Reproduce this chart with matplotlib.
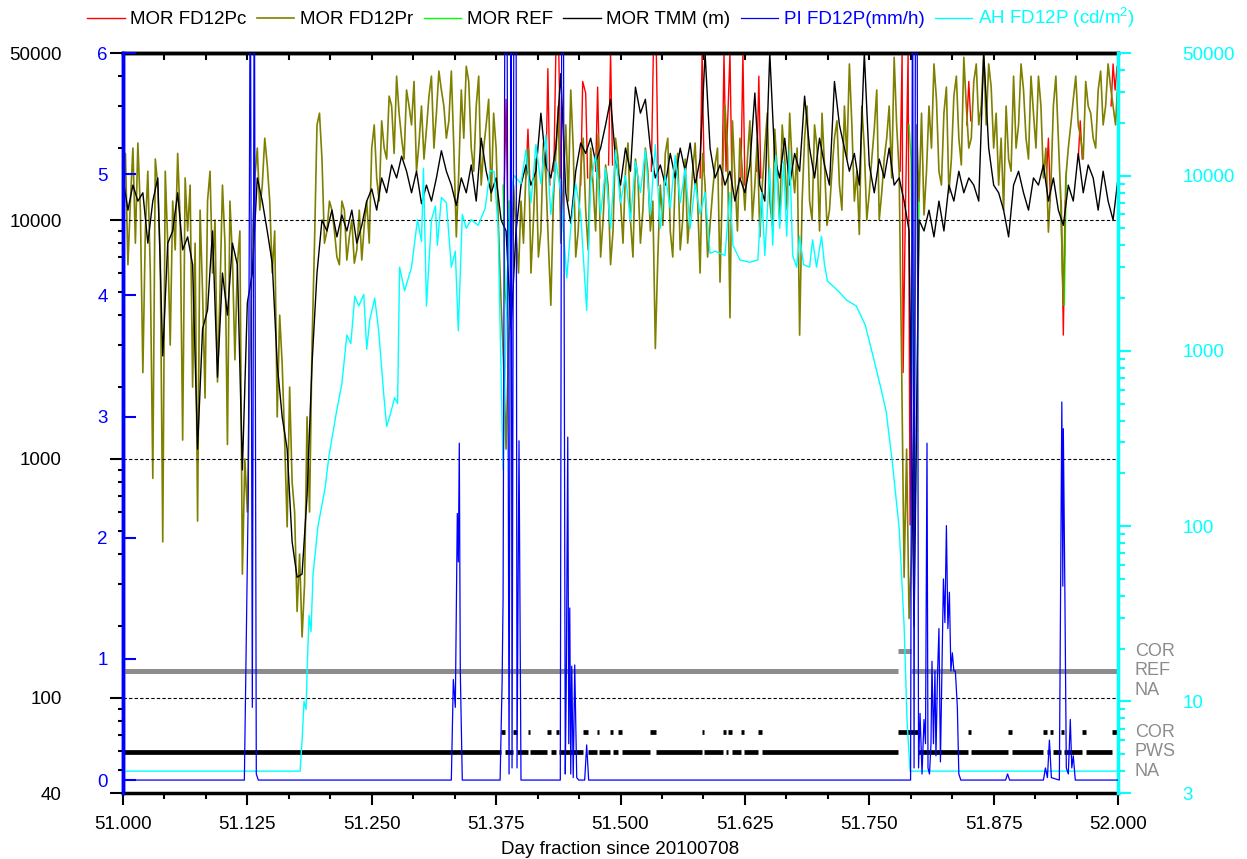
import numpy as np
import matplotlib.pyplot as plt
from matplotlib.ticker import (FixedLocator, LogLocator, NullFormatter, FuncFormatter,
                               MultipleLocator, FormatStrFormatter)

plt.rcParams['font.family'] = ['Liberation Sans', 'DejaVu Sans']
plt.rcParams['font.size'] = 13.5
plt.rcParams['mathtext.fontset'] = 'custom'
plt.rcParams['mathtext.rm'] = 'Liberation Sans'

# MOR FD12Pr (m), sampled every 0.005 day from 51.000 to 52.000
mor_fd12pr = [
    15000, 6500, 20000, 21000, 2300, 16000, 830, 14000, 450, 8000,
    12000, 19000, 1200, 9000, 2000, 550, 5000, 12000, 6000, 2100,
    14000, 1150, 7000, 6500, 330, 600, 8000, 20000, 14000, 17000,
    6000, 1500, 2500, 520, 800, 230, 180, 1500, 3000, 25000,
    18000, 9000, 11000, 7000, 12000, 6800, 10000, 7500, 6800, 12000,
    20000, 15000, 26000, 18000, 30000, 40000, 22000, 35000, 25000, 16000,
    30000, 24000, 40000, 28000, 35000, 22000, 42000, 8500, 35000, 44000,
    20000, 30000, 14000, 25000, 12000, 20000, 4500, 1100, 6000, 9000,
    12000, 16000, 6000, 18000, 9000, 15000, 4400, 19000, 8000, 25000,
    35000, 7000, 16000, 11000, 20000, 9000, 7000, 17000, 6500, 22000,
    12000, 16000, 10000, 18000, 8000, 20000, 9000, 2900, 14000, 19000,
    9000, 15000, 7500, 18000, 11000, 21000, 6000, 14000, 9500, 17000,
    5500, 30000, 3900, 15000, 22000, 11000, 26000, 14000, 8500, 20000,
    12000, 24000, 10000, 18000, 28000, 13000, 3300, 22000, 12000, 25000,
    9000, 17000, 11000, 22000, 14000, 30000, 45000, 12000, 8700, 20000,
    13000, 24000, 10000, 18000, 30000, 48000, 16000, 320, 215, 1500,
    12000, 10500, 30000, 45000, 16000, 28000, 13000, 33000, 22000, 48000,
    20000, 38000, 25000, 50000, 45000, 20000, 14000, 11000, 18000, 40000,
    25000, 35000, 18000, 28000, 40000, 15000, 8900, 30000, 22000, 4400,
    20000, 32000, 25000, 18000, 30000, 22000, 35000, 25000, 45000, 30000,
    40000,
]
# FD12Pr samples in between (day 51.0025, 51.0075, ...)
mor_fd12pr_mid = [
    19000, 12000, 8000, 11000, 9000, 6000, 18000, 7000, 16000, 3000,
    7500, 10000, 15000, 14000, 8000, 11000, 1800, 16000, 10000, 5000,
    8000, 12000, 2600, 9000, 1000, 2500, 15000, 11000, 22000, 12000,
    9000, 4000, 1200, 2000, 600, 400, 300, 600, 8000, 28000,
    8000, 12000, 9000, 6500, 11000, 8500, 6600, 11000, 9500, 8000,
    25000, 12000, 20000, 33000, 19000, 28000, 18000, 30000, 38000, 21000,
    18000, 33000, 20000, 42000, 30000, 26000, 20000, 16000, 22000, 38000,
    16000, 40000, 20000, 32000, 28000, 9000, 2500, 3000, 14000, 6000,
    8000, 20000, 10000, 7000, 21000, 8000, 12000, 30000, 14000, 12000,
    20000, 9000, 22000, 7500, 14000, 23000, 10000, 14000, 9000, 18000,
    8000, 21000, 7000, 15000, 11000, 16000, 12000, 7000, 9500, 22000,
    7000, 19000, 10000, 8000, 16000, 12000, 19000, 7000, 13000, 20000,
    15000, 20000, 26000, 9000, 16000, 18000, 10000, 22000, 14000, 28000,
    9500, 16000, 25000, 11000, 17000, 20000, 12000, 30000, 10000, 20000,
    28000, 9500, 16000, 26000, 11000, 18000, 25000, 16000, 30000, 10000,
    18000, 35000, 13000, 22000, 15000, 25000, 2500, 1100, 400, 25000,
    28000, 16000, 20000, 32000, 14000, 36000, 18000, 40000, 17000, 30000,
    22000, 45000, 30000, 25000, 36000, 28000, 22000, 30000, 16000, 20000,
    45000, 22000, 40000, 20000, 30000, 20000, 14000, 40000, 12000, 15000,
    25000, 40000, 22000, 38000, 28000, 20000, 42000, 30000, 36000, 25000,
]

# MOR TMM (m), every 0.005 day
mor_tmm = [
    15000, 11000, 14000, 12000, 13000, 8000, 12000, 15000, 2700, 8000,
    9000, 13000, 7500, 8500, 6500, 1100, 3500, 4200, 9000, 2200,
    6000, 4000, 8000, 6500, 900, 4500, 6000, 15000, 12000, 9000,
    6600, 2500, 1500, 1100, 450, 320, 330, 700, 2500, 6000,
    10000, 9000, 11000, 8500, 10500, 9000, 11000, 8000, 9500, 12000,
    13500, 11000, 15000, 13000, 17000, 15000, 18500, 16000, 13000, 16000,
    11700, 14000, 12000, 15000, 19500, 16000, 14000, 11500, 15000, 13000,
    17000, 12000, 22000, 16000, 13000, 15000, 10000, 9000, 3500, 9000,
    14000, 17000, 14000, 16000, 28000, 17000, 15000, 20000, 41000, 13000,
    9700, 16000, 21000, 19000, 22000, 17500, 20000, 25000, 32000, 18000,
    14000, 20000, 16000, 36000, 28000, 32000, 20000, 15000, 17000, 14000,
    19000, 15000, 20000, 16000, 21000, 14000, 18000, 50000, 20000, 15000,
    17000, 14000, 16000, 12000, 15000, 13000, 17000, 34000, 14000, 12000,
    50000, 18000, 15000, 22000, 14000, 19000, 16000, 33000, 20000, 15000,
    22000, 17000, 14000, 38000, 25000, 20000, 16000, 19000, 14000, 50000,
    17000, 13000, 18000, 15000, 20000, 14000, 15000, 12000, 9000, 200,
    10000, 9000, 11000, 8500, 12000, 9000, 14000, 12000, 16000, 13000,
    15000, 14000, 12000, 50000, 20000, 14000, 13000, 11000, 8500, 14000,
    16000, 13000, 11000, 15000, 14000, 17000, 12000, 15000, 11000, 9500,
    14000, 12000, 19000, 13000, 17000, 15000, 11000, 16000, 12000, 10000,
    15000,
]

# FD12Pc only where it departs from FD12Pr (day, MOR)
mor_fd12pc = [
    [(51.383, 12000), (51.385, 32000), (51.387, 8000)],
    [(51.405, 15000), (51.407, 24000), (51.409, 14000)],
    [(51.425, 15000), (51.427, 43000), (51.429, 14000)],
    [(51.433, 16000), (51.435, 50000), (51.438, 50000), (51.440, 15000)],
    [(51.460, 14000), (51.462, 38000), (51.465, 34000), (51.467, 15000)],
    [(51.475, 16000), (51.477, 36000), (51.479, 15000)],
    [(51.488, 17000), (51.490, 50000), (51.492, 17000)],
    [(51.531, 16000), (51.533, 50000), (51.536, 50000), (51.538, 14000)],
    [(51.580, 15000), (51.582, 50000), (51.584, 16000)],
    [(51.602, 14000), (51.604, 50000), (51.606, 16000), (51.610, 50000), (51.612, 14000)],
    [(51.621, 15000), (51.623, 50000), (51.625, 14000)],
    [(51.637, 16000), (51.639, 40000), (51.641, 15000)],
    [(51.781, 16000), (51.783, 50000), (51.784, 2300), (51.786, 9000),
     (51.789, 50000), (51.791, 530), (51.793, 8000)],
    [(51.848, 25000), (51.850, 38000), (51.852, 26000)],
    [(51.928, 15000), (51.930, 22000), (51.932, 12000)],
    [(51.943, 12000), (51.945, 3300), (51.947, 12000)],
    [(51.960, 18000), (51.962, 26000), (51.964, 18000)],
    [(51.993, 30000), (51.995, 45000), (51.997, 35000), (51.999, 44000)],
]

mor_ref = [
    [(51.382, 14000), (51.384, 5000), (51.386, 4000), (51.388, 12000)],
    [(51.790, 25000), (51.792, 18000), (51.794, 3000), (51.796, 530),
     (51.798, 2000), (51.800, 12000)],
    [(51.942, 14000), (51.944, 6000), (51.946, 4400), (51.948, 16000)],
]

# AH FD12P (cd/m2)
ah_day = [51.000, 51.178, 51.180, 51.182, 51.184, 51.185, 51.187, 51.189, 51.191, 51.196,
          51.203, 51.207, 51.214, 51.220, 51.225, 51.229, 51.233, 51.237, 51.242, 51.245,
          51.248, 51.253, 51.257, 51.262, 51.265, 51.268, 51.273, 51.276, 51.278, 51.283,
          51.290, 51.296, 51.300, 51.302, 51.305, 51.310, 51.314, 51.316, 51.320, 51.325,
          51.330, 51.334, 51.337, 51.341, 51.345, 51.350, 51.357, 51.364, 51.369, 51.373,
          51.377, 51.382, 51.386, 51.390, 51.393, 51.400, 51.405, 51.410, 51.415, 51.420,
          51.425, 51.430, 51.435, 51.440, 51.446, 51.450, 51.455, 51.460, 51.466, 51.470,
          51.475, 51.480, 51.485, 51.490, 51.495, 51.500, 51.505, 51.510, 51.515, 51.520,
          51.525, 51.530, 51.535, 51.540, 51.545, 51.550, 51.555, 51.560, 51.565, 51.570,
          51.575, 51.580, 51.585, 51.590, 51.595, 51.600, 51.605, 51.610, 51.613, 51.620,
          51.630, 51.638, 51.642, 51.645, 51.650, 51.653, 51.656, 51.660, 51.664, 51.667,
          51.670, 51.673, 51.677, 51.680, 51.684, 51.690, 51.693, 51.697, 51.702, 51.705,
          51.708, 51.715, 51.722, 51.727, 51.737, 51.746, 51.756, 51.762, 51.767, 51.773,
          51.780, 51.785, 51.788, 51.791, 52.000]
ah_val = [4.0, 4.0, 6, 10, 9, 14.5, 31, 25, 53, 100,
          163, 250, 430, 650, 1230, 1100, 2050, 1800, 2100, 1020,
          1500, 2000, 1300, 570, 370, 420, 540, 500, 3000, 2200,
          3000, 5600, 4200, 11000, 1800, 5600, 6700, 4000, 7500, 7000,
          3000, 3700, 1300, 6000, 5000, 5600, 5200, 6500, 10700, 10500,
          5000, 210, 2600, 8000, 10000, 9000, 14000, 7000, 15000, 9000,
          17000, 6000, 12000, 8000, 2600, 5000, 9000, 6000, 1700, 9000,
          13000, 6000, 11000, 5000, 14000, 7000, 10000, 5500, 12000, 8000,
          14000, 6000, 15000, 5000, 10000, 6500, 13000, 7000, 11000, 5000,
          9000, 6000, 8000, 3600, 3700, 3600, 3500, 8000, 4000, 3300,
          3200, 3300, 8000, 3500, 11000, 4000, 13000, 5000, 12000, 4500,
          13800, 3500, 3000, 4500, 3100, 3000, 4300, 3000, 4500, 3100,
          2500, 2300, 2100, 1950, 1800, 1400, 830, 600, 450, 235,
          98, 27, 7.6, 4.0, 4.0]

# PI FD12P (mm/h)
pi_day = [51.000, 51.122, 51.126, 51.128, 51.130, 51.132, 51.134, 51.136,
          51.330, 51.332, 51.334, 51.336, 51.337, 51.338, 51.339, 51.341,
          51.379, 51.381, 51.382, 51.384, 51.386, 51.388, 51.390, 51.391, 51.393,
          51.395, 51.396, 51.398, 51.400,
          51.4395, 51.441, 51.4425, 51.4445, 51.4455, 51.447, 51.448, 51.449, 51.450,
          51.451, 51.4525, 51.454, 51.456, 51.458, 51.464, 51.466, 51.468,
          51.7915, 51.7935, 51.795, 51.7965, 51.798, 51.7995, 51.801, 51.803, 51.805,
          51.8065, 51.808, 51.809, 51.8105, 51.812, 51.813, 51.8145, 51.816, 51.817,
          51.8185, 51.820, 51.8215, 51.823, 51.8245, 51.826, 51.8275, 51.829, 51.8305,
          51.832, 51.8335, 51.835, 51.8365, 51.8385, 51.840, 51.842,
          51.887, 51.889, 51.891,
          51.925, 51.927, 51.929, 51.931, 51.933, 51.941, 51.9435, 51.9445, 51.945,
          51.9465, 51.948, 51.950, 51.952, 51.9535, 51.955, 51.957, 52.000]
pi_val = [0, 0, 2.4, 7, 0.6, 7, 0.05, 0,
          0, 0.83, 0.6, 2.2, 1.8, 2.78, 0.9, 0,
          0, 0.8, 1.5, 7, 6.5, 0.05, 7, 0.1, 7,
          7, 0.1, 2.8, 0,
          0, 7, 7, 0.05, 0.8, 2.83, 0.3, 1.42, 0.05,
          0.94, 0.02, 0.95, 0.02, 0, 0, 0.29, 0,
          0, 7, 0.1, 7, 7, 0.1, 0.55, 0.05, 0.5,
          0.3, 2.78, 0.1, 0.05, 0.3, 0.98, 0.3, 0.9, 0.2,
          0.85, 1.25, 0.15, 0.9, 1.66, 1.3, 2.1, 1.25, 1.55,
          0.9, 1.05, 0.9, 0.9, 0.6, 0.05, 0,
          0, 0.05, 0,
          0, 0.1, 0.02, 0.33, 0.02, 0, 3.12, 1.6, 2.9,
          1.6, 0.1, 0.05, 0.5, 0.1, 0.2, 0, 0]

# status flags (day intervals)
ref_cor = [(51.779, 51.792)]
pws_cor = [(51.380, 51.384), (51.392, 51.396), (51.407, 51.409), (51.426, 51.430),
           (51.435, 51.438), (51.462, 51.467), (51.476, 51.478), (51.489, 51.492),
           (51.497, 51.501), (51.530, 51.536), (51.582, 51.584), (51.603, 51.606),
           (51.608, 51.612), (51.621, 51.624), (51.638, 51.642), (51.779, 51.799),
           (51.849, 51.852), (51.889, 51.893), (51.925, 51.929), (51.932, 51.935),
           (51.943, 51.946), (51.964, 51.968), (51.994, 51.999)]


def complement(intervals, lo=51.0, hi=52.0):
    out, cur = [], lo
    for a, b in intervals:
        if a > cur:
            out.append((cur, a))
        cur = b
    if cur < hi:
        out.append((cur, hi))
    return out


fig = plt.figure(figsize=(12.47, 8.59), dpi=100)
ax = fig.add_axes([0.0986, 0.0768, 0.798, 0.8615])
ax.set_xlim(51, 52)
ax.set_yscale('log')
ax.set_ylim(40, 50000)

# interleave the two FD12Pr sample sets
pr = np.empty(len(mor_fd12pr) + len(mor_fd12pr_mid))
pr[0::2] = mor_fd12pr
pr[1::2] = mor_fd12pr_mid
t_pr = np.linspace(51, 52, len(pr))
t = np.linspace(51, 52, len(mor_tmm))

for seg in mor_fd12pc:
    xs, ys = zip(*seg)
    l_red, = ax.plot(xs, ys, color='#ff0000', lw=1)
for seg in mor_ref:
    xs, ys = zip(*seg)
    l_green, = ax.plot(xs, ys, color='#00ff00', lw=1)
l_olive, = ax.plot(t_pr, pr, color='#808000', lw=1.2)
l_black, = ax.plot(t, mor_tmm, color='black', lw=1)
for v in (100, 1000, 10000):
    ax.axhline(v, color='black', lw=0.8, ls=(0, (3, 2)))

# status rows
st = ax.twinx()
st.set_ylim(-1.128, 36.82)
st.axis('off')
grey = '#8c8c8c'
rows = {'gCOR': 6.15, 'gREF': 5.15, 'gNA': 4.15, 'bCOR': 2, 'bPWS': 1, 'bNA': 0}
for a, b in complement(ref_cor):
    st.hlines(rows['gREF'], a, b, color=grey, lw=3.6)
for a, b in ref_cor:
    st.hlines(rows['gCOR'], a, b, color=grey, lw=3.6)
for a, b in complement(pws_cor):
    st.hlines(rows['bPWS'], a, b, color='black', lw=3.4)
for a, b in pws_cor:
    st.hlines(rows['bCOR'], a, b, color='black', lw=3.4)
for name, key in [('COR', 'gCOR'), ('REF', 'gREF'), ('NA', 'gNA'),
                  ('COR', 'bCOR'), ('PWS', 'bPWS'), ('NA', 'bNA')]:
    st.text(1.017, rows[key], name, color=grey, fontsize=13, va='center', ha='left',
            transform=st.get_yaxis_transform(), clip_on=False)

# AH axis (right)
ah = ax.twinx()
ah.set_yscale('log')
ah.set_ylim(3, 50000)
l_cyan, = ah.plot(ah_day, ah_val, color='#00ffff', lw=1)

# PI axis (inner left)
pi = ax.twinx()
pi.set_ylim(-0.107, 6)
l_blue, = pi.plot(pi_day, pi_val, color='#0000ff', lw=0.9)
pi.yaxis.tick_left()
pi.yaxis.set_label_position('left')

# spines
ax.spines['right'].set_visible(False)
ax.spines['left'].set_color('#0000ff')
for s in ('top', 'bottom', 'left'):
    ax.spines[s].set_linewidth(2.5)
for s in ('left', 'top', 'bottom'):
    ah.spines[s].set_visible(False)
for s in ('right', 'top', 'bottom'):
    pi.spines[s].set_visible(False)
ah.spines['right'].set_color('#00ffff')
ah.spines['right'].set_linewidth(2.5)
pi.spines['left'].set_color('#0000ff')
pi.spines['left'].set_linewidth(2.5)

# x axis
ax.xaxis.set_major_locator(MultipleLocator(0.125))
ax.xaxis.set_minor_locator(MultipleLocator(1 / 24))
ax.xaxis.set_major_formatter(FormatStrFormatter('%.3f'))
ax.tick_params(axis='x', which='major', direction='out', length=8.6, width=1.5, pad=8)
ax.tick_params(axis='x', which='minor', direction='out', length=4.3, width=1.5)
ax.set_xlabel('Day fraction since 20100708', labelpad=6)
top = ax.secondary_xaxis('top')
top.xaxis.set_major_locator(MultipleLocator(1 / 24))
top.tick_params(axis='x', direction='in', length=5, width=1.5, labeltop=False)
top.spines['top'].set_linewidth(2.5)

# MOR y axis
ax.yaxis.set_major_locator(FixedLocator([40, 100, 1000, 10000, 50000]))
ax.yaxis.set_major_formatter(FuncFormatter(lambda v, p: f'{v:g}'))
ax.yaxis.set_minor_locator(LogLocator(base=10, subs=np.arange(2, 10)))
ax.yaxis.set_minor_formatter(NullFormatter())
ax.tick_params(axis='y', which='major', direction='out', length=9.4, width=1.5, pad=34.6)
ax.tick_params(axis='y', which='minor', direction='out', length=3.6, width=1.5)

# AH y axis
ah.yaxis.set_major_locator(FixedLocator([3, 10, 100, 1000, 10000, 50000]))
ah.yaxis.set_major_formatter(FuncFormatter(lambda v, p: f'{v:g}'))
ah.yaxis.set_minor_locator(LogLocator(base=10, subs=np.arange(2, 10)))
ah.yaxis.set_minor_formatter(NullFormatter())
ah.tick_params(axis='y', which='major', direction='out', length=9.4, width=1.5, pad=37,
               color='#00ffff', labelcolor='#00ffff')
ah.tick_params(axis='y', which='minor', direction='out', length=5, width=1.5, color='#00ffff')

# PI y axis
pi.set_yticks(range(7))
pi.tick_params(axis='y', direction='in', length=9.4, width=1.5, pad=10.8,
               color='#0000ff', labelcolor='#0000ff')

handles = [l_red, l_olive, l_green, l_black, l_blue, l_cyan]
labels = ['MOR FD12Pc', 'MOR FD12Pr', 'MOR REF', 'MOR TMM (m)', 'PI FD12P(mm/h)',
          'AH FD12P (cd/m$^2$)']
colors = ['black', 'black', 'black', 'black', '#0000ff', '#00ffff']
leg = fig.legend(handles, labels, ncol=6, loc='center', bbox_to_anchor=(0.49, 0.979),
                 frameon=False, handlelength=2.0, handletextpad=0.3, columnspacing=0.55)
for txt, c in zip(leg.get_texts(), colors):
    txt.set_color(c)

fig.savefig('out.png', dpi=100)
